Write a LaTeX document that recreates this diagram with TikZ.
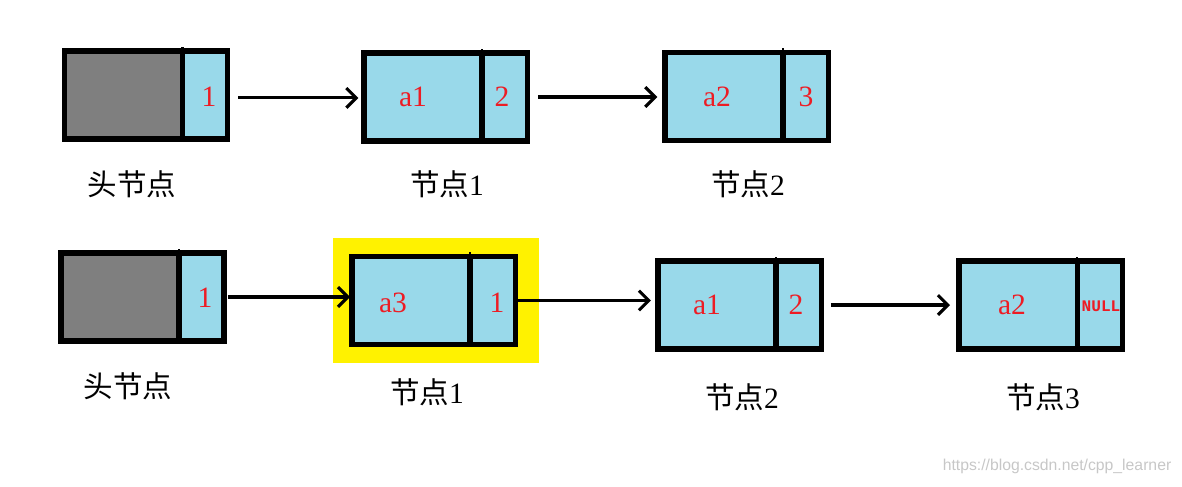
\documentclass[tikz,border=0pt]{standalone}
\usepackage{fontspec}
\setmainfont{Liberation Serif}
\setmonofont{Liberation Mono}
\newfontfamily\cjk{Noto Sans CJK SC}
\usetikzlibrary{arrows.meta}
\definecolor{boxblue}{RGB}{153,217,234}
\definecolor{headgray}{RGB}{127,127,127}
\definecolor{valred}{RGB}{237,28,36}
\definecolor{hilite}{RGB}{255,242,0}

\begin{document}
\begin{tikzpicture}[x=0.025cm, y=-0.025cm,
  box/.style={draw, line width=3.6pt, inner sep=0pt, outer sep=0pt, minimum height=2.2cm},
  datapart/.style={box, fill=boxblue, minimum width=2.95cm},
  headpart/.style={box, fill=headgray, minimum width=2.95cm},
  nextpart/.style={box, fill=boxblue, minimum width=1.125cm, anchor=west},
  val/.style={text=valred, inner sep=0pt, font=\fontsize{21}{21}\selectfont},
  nullval/.style={text=valred, inner sep=0pt, font=\fontsize{11.5}{11.5}\ttfamily\bfseries},
  nodetitle/.style={inner sep=0pt, font=\fontsize{21}{21}\selectfont},
  link/.style={line width=2.2pt, -{Straight Barb[length=7pt,width=14pt]}}]
 \useasboundingbox (0,0) rectangle (1182,486);
 \fill[hilite] (333,238) rectangle (539,363);
 % first list
 \node[headpart] (a0) at (123.5,95) {};
 \node[nextpart] (a0n) at (a0.east) {};
 \node[datapart] (a1) at (423,97) {};
 \node[nextpart] (a1n) at (a1.east) {};
 \node[datapart] (a2) at (724,96.5) {};
 \node[nextpart] (a2n) at (a2.east) {};
 % second list
 \node[headpart] (b0) at (120,297) {};
 \node[nextpart] (b0n) at (b0.east) {};
 \node[datapart] (b1) at (411,300.5) {};
 \node[nextpart] (b1n) at (b1.east) {};
 \node[datapart] (b2) at (717,305) {};
 \node[nextpart] (b2n) at (b2.east) {};
 \node[datapart] (b3) at (1018,305) {};
 \node[nextpart] (b3n) at (b3.east) {};
 \begin{scope}[every node/.style={val}]
  \node (a0v) at (209,97) {1};
  \node (a1d) at (413,97) {a1};
  \node (a1v) at (502,97) {2};
  \node (a2d) at (717,97) {a2};
  \node (a2v) at (806,97) {3};
  \node (b0v) at (205,298) {1};
  \node (b1d) at (393,303) {a3};
  \node (b1v) at (497,303) {1};
  \node (b2d) at (707,305) {a1};
  \node (b2v) at (796,305) {2};
  \node (b3d) at (1012,305) {a2};
 \end{scope}
 \node[nullval] (b3v) at (1101,306) {NULL};
 \begin{scope}[every node/.style={nodetitle}]
  \node (a0t) at (132,184) {\cjk 头节点};
  \node (a1t) at (447,184) {{\cjk 节点}1};
  \node (a2t) at (748,184) {{\cjk 节点}2};
  \node (b0t) at (128,386) {\cjk 头节点};
  \node (b1t) at (427,392) {{\cjk 节点}1};
  \node (b2t) at (742,397) {{\cjk 节点}2};
  \node (b3t) at (1043,397) {{\cjk 节点}3};
 \end{scope}
 \node[text=black!22, font=\fontsize{11.2}{11.2}\fontspec{Liberation Sans}] (mark) at (1057,466) {https://blog.csdn.net/cpp\_learner};
  \path [-, line width=2pt] (a0.north east) edge ++(0,-4);
  \path [-, line width=2pt] (a1.north east) edge ++(0,-4);
  \path [-, line width=2pt] (a2.north east) edge ++(0,-4);
  \path [-, line width=2pt] (b0.north east) edge ++(0,-4);
  \path [-, line width=2pt] (b1.north east) edge ++(0,-4);
  \path [-, line width=2pt] (b2.north east) edge ++(0,-4);
  \path [-, line width=2pt] (b3.north east) edge ++(0,-4);
  \path [link] ([yshift=-2.1pt]a0n.east) edge [shorten <=7.8pt, shorten >=4pt] ([yshift=-2.1pt]a0n.east -| a1.west);
  \path [link] (a1n.east) edge [shorten <=7.8pt, shorten >=5.5pt] (a1n.east -| a2.west);
  \path [link] (b0n.east) edge [shorten <=2.8pt, shorten >=1.4pt] (b0n.east -| b1.west);
  \path [link] (b1n.east) edge [shorten <=0pt, shorten >=5pt] (b1n.east -| b2.west);
  \path [link] (b2n.east) edge [shorten <=7pt, shorten >=6.4pt] (b2n.east -| b3.west);
 \end{tikzpicture}
\end{document}
